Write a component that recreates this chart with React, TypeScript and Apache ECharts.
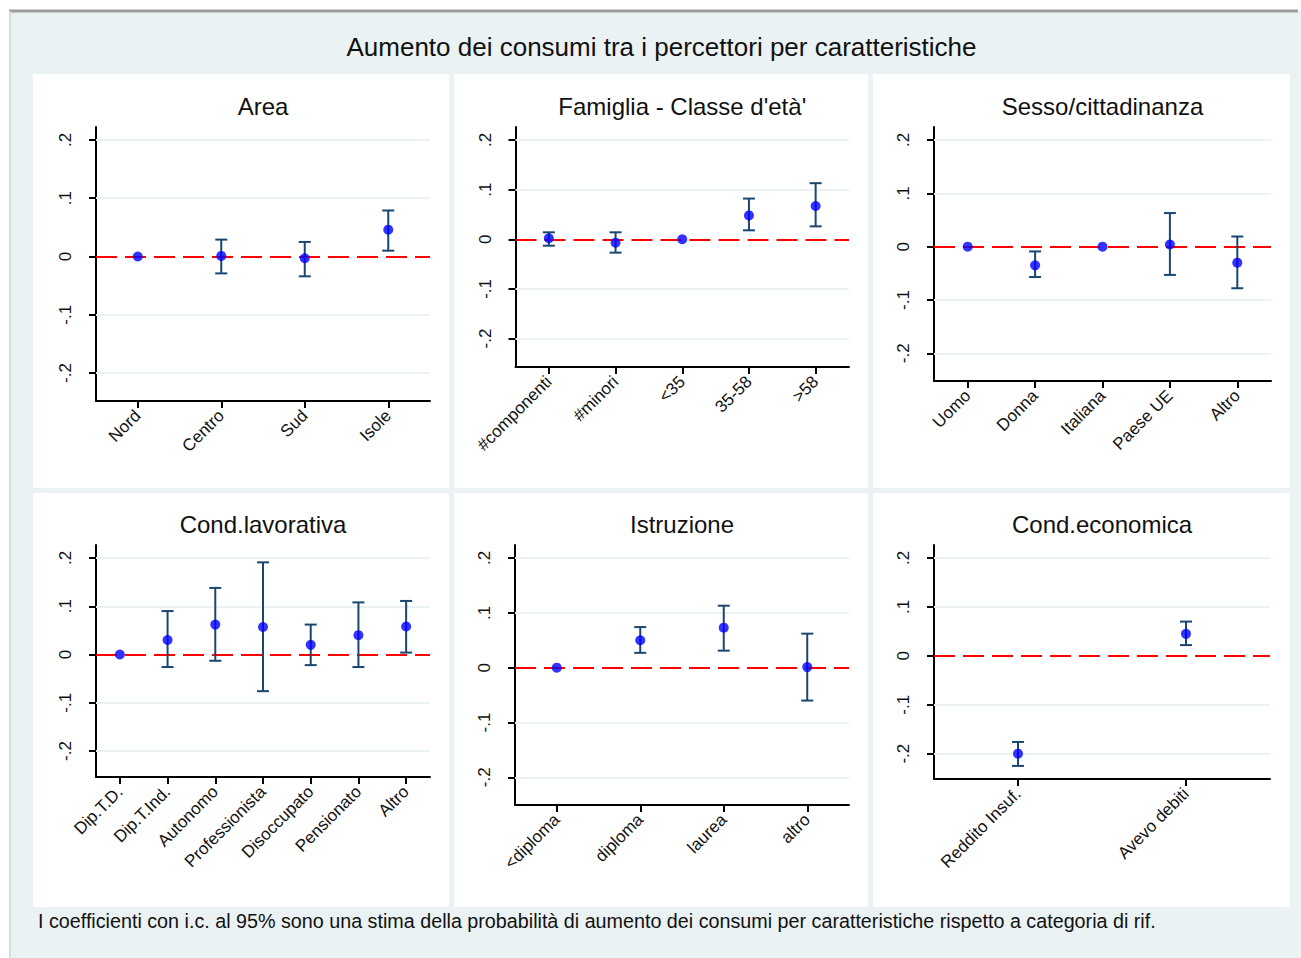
import React, { useEffect, useRef } from "react";
import * as echarts from "echarts";

// ---------- DATA ----------
const mainTitle = "Aumento dei consumi tra i percettori per caratteristiche";
const footnote =
  "I coefficienti con i.c. al 95% sono una stima della probabilità di aumento dei consumi per caratteristiche rispetto a categoria di rif.";
const yTicks = [-0.2, -0.1, 0, 0.1, 0.2];

const panelTitles = ["Area", "Famiglia - Classe d'età'", "Sesso/cittadinanza", "Cond.lavorativa", "Istruzione", "Cond.economica"];

const areaCats = ["Nord", "Centro", "Sud", "Isole"];
const areaEst = [0, 0.001, -0.003, 0.046];
const areaLo = [null, -0.029, -0.034, 0.01];
const areaHi = [null, 0.029, 0.025, 0.079];

const famCats = ["#componenti", "#minori", "<35", "35-58", ">58"];
const famEst = [0.002, -0.007, 0, 0.048, 0.067];
const famLo = [-0.013, -0.027, null, 0.018, 0.026];
const famHi = [0.014, 0.014, null, 0.082, 0.113];

const sexCats = ["Uomo", "Donna", "Italiana", "Paese UE", "Altro"];
const sexEst = [0, -0.035, 0, 0.004, -0.03];
const sexLo = [null, -0.057, null, -0.053, -0.078];
const sexHi = [null, -0.009, null, 0.063, 0.019];

const lavCats = ["Dip.T.D.", "Dip.T.Ind.", "Autonomo", "Professionista", "Disoccupato", "Pensionato", "Altro"];
const lavEst = [0, 0.03, 0.062, 0.057, 0.02, 0.04, 0.058];
const lavLo = [null, -0.026, -0.013, -0.076, -0.022, -0.026, 0.004];
const lavHi = [null, 0.09, 0.138, 0.191, 0.062, 0.108, 0.111];

const istCats = ["<diploma", "diploma", "laurea", "altro"];
const istEst = [0, 0.05, 0.073, 0.001];
const istLo = [null, 0.027, 0.031, -0.06];
const istHi = [null, 0.074, 0.113, 0.062];

const ecoCats = ["Reddito Insuf.", "Avevo debiti"];
const ecoEst = [-0.2, 0.045];
const ecoLo = [-0.225, 0.022];
const ecoHi = [-0.176, 0.07];

const panelData = [
  { cats: areaCats, est: areaEst, lo: areaLo, hi: areaHi },
  { cats: famCats, est: famEst, lo: famLo, hi: famHi },
  { cats: sexCats, est: sexEst, lo: sexLo, hi: sexHi },
  { cats: lavCats, est: lavEst, lo: lavLo, hi: lavHi },
  { cats: istCats, est: istEst, lo: istLo, hi: istHi },
  { cats: ecoCats, est: ecoEst, lo: ecoLo, hi: ecoHi },
];

// ---------- LAYOUT ----------
const layout = [
  { ax: 96, rx: 430, top: 127, yTop: 140, yBot: 373, bottom: 401 },
  { ax: 515.5, rx: 849, top: 127, yTop: 140, yBot: 338.5, bottom: 367 },
  { ax: 934, rx: 1271, top: 127, yTop: 140, yBot: 353.3, bottom: 381 },
  { ax: 96, rx: 430, top: 545, yTop: 558, yBot: 751, bottom: 777 },
  { ax: 515, rx: 849, top: 545, yTop: 558, yBot: 777.3, bottom: 805 },
  { ax: 934, rx: 1270, top: 545, yTop: 558, yBot: 753.7, bottom: 779 },
];
const panelRects = [
  [33, 74, 416, 414], [454, 74, 414, 414], [873, 74, 417, 414],
  [33, 493, 416, 414], [454, 493, 414, 414], [873, 493, 417, 414],
];

const FONT = "'Liberation Sans', Arial, sans-serif";
const TXT = "#111111";
const BG = "#EAF2F3";
const NAVY = "#1A476F";

const fmtY = (v: number) => {
  if (Math.abs(v) < 1e-9) return "0";
  const d = Math.round(Math.abs(v) * 10);
  return (v < 0 ? "-" : "") + "." + d;
};

export default function App() {
  const ref = useRef<HTMLDivElement>(null);
  useEffect(() => {
    if (!ref.current) return;
    const chart = echarts.init(ref.current, null, { renderer: "svg" });

    const grids: any[] = [];
    const xAxes: any[] = [];
    const yAxes: any[] = [];
    const series: any[] = [];
    const graphic: any[] = [];

    graphic.push({ type: "rect", z: -10, shape: { x: 9, y: 10, width: 1292, height: 948 }, style: { fill: BG } });
    graphic.push({ type: "line", z: -9, shape: { x1: 9, y1: 11, x2: 1298, y2: 11 }, style: { stroke: "#9c9c9c", lineWidth: 3 } });
    graphic.push({ type: "line", z: -9, shape: { x1: 10, y1: 11, x2: 10, y2: 958 }, style: { stroke: "#d4dcde", lineWidth: 2 } });
    panelRects.forEach((r) => {
      graphic.push({ type: "rect", z: -8, shape: { x: r[0], y: r[1], width: r[2], height: r[3] }, style: { fill: "#ffffff" } });
    });
    graphic.push({
      type: "text", x: 661.5, y: 47,
      style: { text: mainTitle, fill: TXT, fontSize: 26, fontFamily: FONT, align: "center", verticalAlign: "middle" },
    });
    graphic.push({
      type: "text", x: 38, y: 921, scaleX: 0.94,
      style: { text: footnote, fill: TXT, fontSize: 21, fontFamily: FONT, align: "left", verticalAlign: "middle" },
    });

    layout.forEach((L, i) => {
      const d = panelData[i];
      const ppu = (L.yBot - L.yTop) / 0.4;
      const yMax = 0.2 + (L.yTop - L.top) / ppu;
      const yMin = -0.2 - (L.bottom - L.yBot) / ppu;
      graphic.push({
        type: "text", x: (L.ax + L.rx) / 2, y: L.top - 20.5,
        style: { text: panelTitles[i], fill: TXT, fontSize: 24, fontFamily: FONT, align: "center", verticalAlign: "middle" },
      });
      grids.push({ left: L.ax, top: L.top, width: L.rx - L.ax, height: L.bottom - L.top, outerBoundsMode: "none", containLabel: false });
      xAxes.push({
        type: "category", gridIndex: i, data: d.cats, boundaryGap: true,
        axisLine: { show: true, onZero: false, lineStyle: { color: "#000", width: 2 } },
        axisTick: { show: true, alignWithLabel: true, length: 7, lineStyle: { color: "#000", width: 2 } },
        axisLabel: { rotate: 45, margin: 12, fontSize: 17, fontFamily: FONT, color: TXT, interval: 0 },
        splitLine: { show: false },
      });
      yAxes.push({
        type: "value", gridIndex: i, min: yMin, max: yMax,
        axisLine: { show: true, onZero: false, lineStyle: { color: "#000", width: 2 } },
        axisTick: { show: true, length: 7, customValues: yTicks, lineStyle: { color: "#000", width: 2 } },
        axisLabel: { rotate: 90, margin: 22, fontSize: 17, fontFamily: FONT, color: TXT, customValues: yTicks, formatter: fmtY },
        splitLine: { show: false },
      });
      // gridlines + reference line
      series.push({
        type: "line", xAxisIndex: i, yAxisIndex: i, z: 1, data: d.est,
        showSymbol: false, symbol: "none", lineStyle: { opacity: 0, width: 0 }, silent: true,
        markLine: {
          silent: true, symbol: "none", label: { show: false }, z: 1,
          lineStyle: { color: BG, width: 2, type: "solid" },
          data: [
            ...yTicks.filter((v) => v !== 0).map((v) => ({ yAxis: v })),
            { yAxis: 0, lineStyle: { color: "#ff0000", width: 2.2, type: [21, 8] } },
          ],
        },
      });
      const ebData: any[] = [];
      d.cats.forEach((_c, k) => {
        if (d.lo[k] != null && d.hi[k] != null) ebData.push([k, d.lo[k], d.hi[k]]);
      });
      series.push({
        type: "custom", xAxisIndex: i, yAxisIndex: i, z: 3, silent: true,
        encode: { x: 0, y: [1, 2] },
        data: ebData,
        renderItem: (_p: any, api: any) => {
          const x = api.value(0);
          const a = api.coord([x, api.value(1)]);
          const b = api.coord([x, api.value(2)]);
          const w = 6;
          const st = { stroke: NAVY, lineWidth: 2 };
          return {
            type: "group",
            children: [
              { type: "line", shape: { x1: a[0], y1: a[1], x2: b[0], y2: b[1] }, style: st },
              { type: "line", shape: { x1: a[0] - w, y1: a[1], x2: a[0] + w, y2: a[1] }, style: st },
              { type: "line", shape: { x1: b[0] - w, y1: b[1], x2: b[0] + w, y2: b[1] }, style: st },
            ],
          };
        },
      });
      series.push({
        type: "scatter", xAxisIndex: i, yAxisIndex: i, z: 4, silent: true,
        data: d.est, symbol: "circle", symbolSize: 10,
        itemStyle: { color: "#0000ff" },
      });
    });

    chart.setOption({
      animation: false,
      backgroundColor: "#ffffff",
      grid: grids,
      xAxis: xAxes,
      yAxis: yAxes,
      series,
      graphic,
    });
    return () => chart.dispose();
  }, []);
  return <div ref={ref} style={{ position: "absolute", left: 0, top: 0, width: 1301, height: 958 }} />;
}
